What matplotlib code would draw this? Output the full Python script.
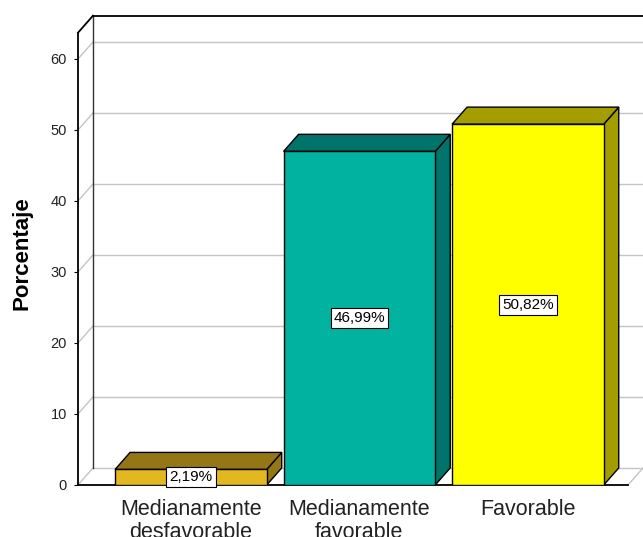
import matplotlib
matplotlib.use('Agg')
import matplotlib.pyplot as plt
from matplotlib.patches import Polygon

categories = ['Medianamente\ndesfavorable', 'Medianamente\nfavorable', 'Favorable']
values = [2.19, 46.99, 50.82]
bar_labels = ['2,19%', '46,99%', '50,82%']
yticks = [0, 10, 20, 30, 40, 50, 60]

front_colors = ['#E2B71F', '#00B29F', '#FFFF00']
dark_colors = ['#957614', '#00736A', '#A39D00']

plt.rcParams['font.family'] = ['Liberation Sans', 'DejaVu Sans']

fig = plt.figure(figsize=(6.43, 5.37), dpi=100)
ax = fig.add_axes([78/643, 52/537, 565/643, 475/537])
ax.set_xlim(-0.67, 2.683)
ax.set_ylim(0, 66.9)

# depth offset of the 3d look
dx, dy = 0.089, 2.4
x_left = -0.67
x_right_front = 2.594
x_right_back = 2.683
y_top = 63.7
width = 0.9

for s in ax.spines.values():
	s.set_visible(False)
ax.set_xticks([])

# back wall gridlines and side wall diagonals
for v in yticks:
	ax.plot([x_left + dx, x_right_back], [v + dy, v + dy], color='#c4c4c4', lw=1, zorder=1, clip_on=False)
	ax.plot([x_left, x_left + dx], [v, v + dy], color='#c4c4c4', lw=1, zorder=1, clip_on=False)

# floor right edge
ax.plot([x_right_front, x_right_back], [0, dy], color='#c4c4c4', lw=1, zorder=1, clip_on=False)

# frame
ax.plot([x_left, x_left], [0, y_top], color='black', lw=1.3, zorder=2, clip_on=False)
ax.plot([x_left + dx, x_left + dx], [dy, y_top + dy], color='#333333', lw=1, zorder=2, clip_on=False)
ax.plot([x_left, x_left + dx], [y_top, y_top + dy], color='black', lw=1.3, zorder=2, clip_on=False)
ax.plot([x_left + dx, x_right_back], [y_top + dy, y_top + dy], color='black', lw=1.3, zorder=2, clip_on=False)
ax.plot([x_left, x_right_front], [0, 0], color='black', lw=1.3, zorder=2, clip_on=False)

for i, v in enumerate(values):
	x0 = i - width / 2
	x1 = i + width / 2
	front = Polygon([(x0, 0), (x1, 0), (x1, v), (x0, v)], closed=True,
		facecolor=front_colors[i], edgecolor='black', lw=1, zorder=4)
	top = Polygon([(x0, v), (x1, v), (x1 + dx, v + dy), (x0 + dx, v + dy)], closed=True,
		facecolor=dark_colors[i], edgecolor='black', lw=1, zorder=3)
	side = Polygon([(x1, 0), (x1 + dx, dy), (x1 + dx, v + dy), (x1, v)], closed=True,
		facecolor=dark_colors[i], edgecolor='black', lw=1, zorder=3)
	ax.add_patch(side)
	ax.add_patch(top)
	ax.add_patch(front)
	ax.text(i, v / 2, bar_labels[i], ha='center', va='center', fontsize=11, zorder=5,
		bbox=dict(boxstyle='square,pad=0.2', facecolor='white', edgecolor='black', lw=0.8))
	ax.text(i, -2.0, categories[i], ha='center', va='top', fontsize=15.5, color='#222222',
		linespacing=1.1, clip_on=False)

ax.set_yticks(yticks)
ax.set_yticklabels([str(t) for t in yticks], fontsize=10.5, color='#222222')
ax.tick_params(axis='y', length=3, pad=5, width=0.8)

fig.text(22/643, 1 - 253/537, 'Porcentaje', rotation=90, ha='center', va='center',
	fontsize=16, fontweight='bold')

fig.savefig('out.png', dpi=100)
